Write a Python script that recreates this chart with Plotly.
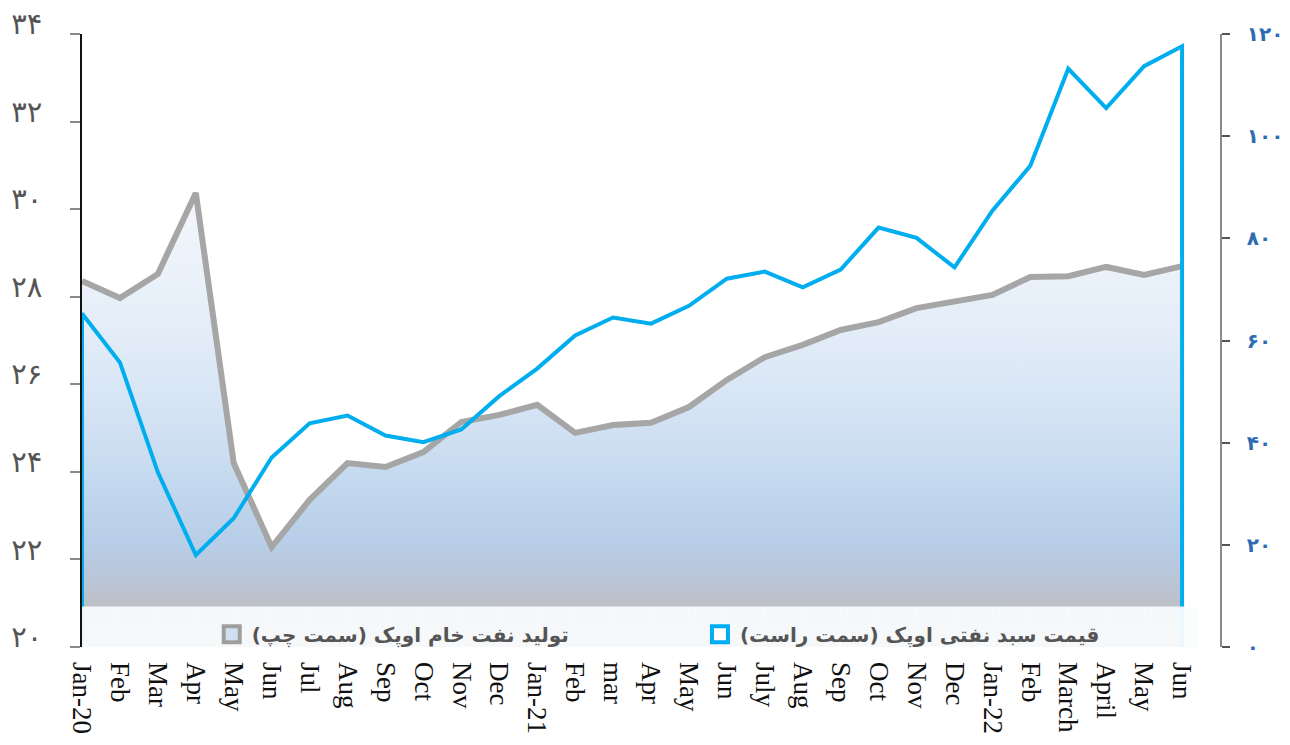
import plotly.graph_objects as go

months = ["Jan-20", "Feb", "Mar", "Apr", "May", "Jun", "Jul", "Aug", "Sep", "Oct", "Nov", "Dec",
          "Jan-21", "Feb", "mar", "Apr", "May", "Jun", "July", "Aug", "Sep", "Oct", "Nov", "Dec",
          "Jan-22", "Feb", "March", "April", "May", "Jun"]

# OPEC crude oil production (left axis, million b/d)
production = [28.36, 27.97, 28.52, 30.37, 24.2, 22.28, 23.36, 24.2, 24.11, 24.45, 25.14, 25.3,
              25.53, 24.89, 25.07, 25.12, 25.48, 26.1, 26.62, 26.9, 27.24, 27.42, 27.74, 27.88,
              28.04, 28.45, 28.47, 28.68, 28.5, 28.7]

# OPEC basket price (right axis, $/b)
price = [65.3, 55.7, 34.2, 18.0, 25.2, 37.1, 43.8, 45.3, 41.4, 40.1, 42.6, 49.1,
         54.5, 61.0, 64.5, 63.3, 66.8, 72.1, 73.5, 70.4, 73.9, 82.1, 80.1, 74.3,
         85.4, 94.2, 113.2, 105.5, 113.7, 117.6]

left_ticks = [20, 22, 24, 26, 28, 30, 32, 34]
right_ticks = [0, 20, 40, 60, 80, 100, 120]

name_prod = "تولید نفت خام اوپک (سمت چپ)"
name_price = "قیمت سبد نفتی اوپک (سمت راست)"

fa_digits = str.maketrans("0123456789", "۰۱۲۳۴۵۶۷۸۹")


def fa(n):
    return str(n).translate(fa_digits)


idx = list(range(len(months)))
base = right_ticks[0]

fig = go.Figure()

# production area with gradient fill
fig.add_trace(go.Scatter(
    x=idx, y=production, mode="lines", yaxis="y",
    line=dict(color="#a6a6a6", width=6),
    fill="tozeroy",
    fillgradient=dict(
        type="vertical", start=left_ticks[0], stop=30.4,
        colorscale=[[0.0, "#bdbec3"], [0.09, "#bcbfc6"], [0.15, "#b9c6d8"],
                    [0.23, "#b8cee8"], [0.34, "#c1d7ee"], [0.48, "#d1e1f3"],
                    [0.67, "#e2ecf8"], [0.87, "#edf3fa"], [1.0, "#f3f6fb"]]),
    showlegend=False, hoverinfo="skip",
))

# price outline (closed down to the baseline at both ends)
fig.add_trace(go.Scatter(
    x=[idx[0]] + idx + [idx[-1]], y=[base] + price + [base], mode="lines", yaxis="y2",
    line=dict(color="#00aeef", width=4),
    showlegend=False,
))

# legend entries
fig.add_trace(go.Scatter(
    x=[None], y=[None], mode="markers", name="<b>\u200f" + name_prod + "\u200f</b>",
    marker=dict(symbol="square", size=16, color="#cfe0f3", line=dict(color="#9e9e9e", width=4)),
    legend="legend",
))
fig.add_trace(go.Scatter(
    x=[None], y=[None], mode="markers", name="<b>\u200f" + name_price + "\u200f</b>",
    marker=dict(symbol="square", size=16, color="#ffffff", line=dict(color="#00aeef", width=4)),
    legend="legend2",
))

legend_common = dict(
    orientation="h", yanchor="middle", xanchor="left", y=0.021,
    bgcolor="rgba(0,0,0,0)", borderwidth=0,
    font=dict(family="DejaVu Sans", size=20, color="#555555"),
)

# the page adds an 8px body margin, so the figure is sized 8px smaller
fig.update_layout(
    width=1282, height=737,
    margin=dict(l=74, r=70, t=26, b=98),
    paper_bgcolor="white", plot_bgcolor="white",
    xaxis=dict(
        range=[0, 30], tickvals=idx, ticktext=months, tickangle=90,
        showgrid=False, zeroline=False, showline=False, automargin=False,
        ticks="inside", ticklen=40, tickcolor="#e3e9f0", tickwidth=1,
        tickfont=dict(family="Liberation Serif", size=27, color="#111111"),
        ticklabelstandoff=14,
    ),
    yaxis=dict(
        range=[left_ticks[0], left_ticks[-1]], tickvals=left_ticks,
        ticktext=[fa(v) for v in left_ticks],
        showgrid=False, zeroline=False, automargin=False,
        showline=True, linecolor="#111111", linewidth=1.5,
        ticks="outside", ticklen=10, tickcolor="#8a8a8a", tickwidth=1.5,
        tickfont=dict(family="DejaVu Sans", size=29, color="#555555"),
        ticklabelstandoff=22, ticklabelshift=-10, ticklabeloverflow="allow",
    ),
    yaxis2=dict(
        range=[right_ticks[0], right_ticks[-1]], tickvals=right_ticks,
        ticktext=[fa(v) for v in right_ticks],
        overlaying="y", side="right", automargin=False,
        showgrid=False, zeroline=False,
        showline=True, linecolor="#8a8a8a", linewidth=1.5,
        ticks="outside", ticklen=8, tickcolor="#555555", tickwidth=1.5,
        tickfont=dict(family="DejaVu Sans", size=20, color="#2e6bb3", weight="bold"),
        ticklabelstandoff=13, ticklabeloverflow="allow",
    ),
    legend=dict(x=0.114, **legend_common),
    legend2=dict(x=0.543, **legend_common),
    shapes=[dict(
        type="rect", xref="paper", yref="paper", x0=0, x1=0.98, y0=0, y1=0.066,
        fillcolor="rgba(250,252,254,0.93)", line=dict(width=0), layer="above",
    )],
)

fig.write_html("out.html")
